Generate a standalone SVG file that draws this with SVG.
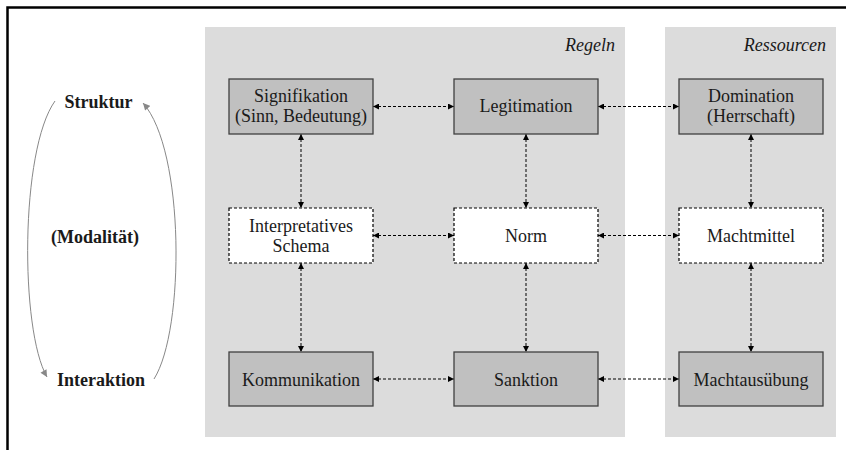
<svg xmlns="http://www.w3.org/2000/svg" width="846" height="450" viewBox="0 0 846 450">
<style>
.panel{fill:#dcdcdc;stroke:none}
.solid{fill:#c0c0c0;stroke:#404040;stroke-width:1.3}
.dash{fill:#ffffff;stroke:#000;stroke-width:1.2;stroke-dasharray:3 2}
text{font-family:'Liberation Serif','Times New Roman','DejaVu Serif',serif;font-size:18px;fill:#1a1a1a;text-anchor:middle}
.b{font-weight:bold}
.i{font-style:italic;text-anchor:end}
.conn{fill:none;stroke:#000;stroke-width:1;stroke-dasharray:3 2;marker-start:url(#ah);marker-end:url(#ah)}
.arc{fill:none;stroke:#888;stroke-width:1;marker-end:url(#ga)}
</style>
<defs>
<marker id="ah" viewBox="0 0 10 10" refX="10" refY="5" markerWidth="7" markerHeight="6" orient="auto-start-reverse" markerUnits="userSpaceOnUse">
<path d="M0,0 L10,5 L0,10 z" fill="#000"/>
</marker>
<marker id="ga" viewBox="0 0 10 10" refX="10" refY="5" markerWidth="8" markerHeight="7" orient="auto" markerUnits="userSpaceOnUse">
<path d="M0,0 L10,5 L0,10 z" fill="#888"/>
</marker>
</defs>
<rect x="0" y="0" width="846" height="450" fill="#fff"/>
<path d="M7.5,450 L7.5,7.5 L846,7.5" fill="none" stroke="#000" stroke-width="2.5"/>
<g id="panels">
<rect class="panel" x="205" y="27" width="420" height="410"/>
<rect class="panel" x="665" y="27" width="171" height="410"/>
<text class="i" x="615" y="51">Regeln</text>
<text class="i" x="826" y="51">Ressourcen</text>
</g>
<g id="levels">
<text class="b" x="98.5" y="108">Struktur</text>
<text class="b" x="95" y="243">(Modalität)</text>
<text class="b" x="101" y="386">Interaktion</text>
<path class="arc" d="M55,101 C20,150 20,330 47,377"/>
<path class="arc" d="M154,379 C185,330 185,150 143,103"/>
</g>
<g id="connectors">
<line class="conn" x1="373" y1="106.5" x2="454" y2="106.5"/>
<line class="conn" x1="598" y1="106.5" x2="679" y2="106.5"/>
<line class="conn" x1="373" y1="235.5" x2="454" y2="235.5"/>
<line class="conn" x1="598" y1="235.5" x2="679" y2="235.5"/>
<line class="conn" x1="373" y1="379" x2="454" y2="379"/>
<line class="conn" x1="598" y1="379" x2="679" y2="379"/>
<line class="conn" x1="301" y1="134" x2="301" y2="208"/>
<line class="conn" x1="526" y1="134" x2="526" y2="208"/>
<line class="conn" x1="751" y1="134" x2="751" y2="208"/>
<line class="conn" x1="301" y1="263" x2="301" y2="352"/>
<line class="conn" x1="526" y1="263" x2="526" y2="352"/>
<line class="conn" x1="751" y1="263" x2="751" y2="352"/>
</g>
<g id="signifikation">
<rect class="solid" x="229" y="79" width="144" height="55"/>
<text x="301" y="102">Signifikation</text>
<text x="301" y="122">(Sinn, Bedeutung)</text>
</g>
<g id="legitimation">
<rect class="solid" x="454" y="79" width="144" height="55"/>
<text x="526" y="112">Legitimation</text>
</g>
<g id="domination">
<rect class="solid" x="679" y="79" width="144" height="55"/>
<text x="751" y="102">Domination</text>
<text x="751" y="122">(Herrschaft)</text>
</g>
<g id="interpretatives-schema">
<rect class="dash" x="229" y="208" width="144" height="55"/>
<text x="301" y="231.5">Interpretatives</text>
<text x="301" y="251.5">Schema</text>
</g>
<g id="norm">
<rect class="dash" x="454" y="208" width="144" height="55"/>
<text x="526" y="242">Norm</text>
</g>
<g id="machtmittel">
<rect class="dash" x="679" y="208" width="144" height="55"/>
<text x="751" y="242">Machtmittel</text>
</g>
<g id="kommunikation">
<rect class="solid" x="229" y="352" width="144" height="54"/>
<text x="301" y="385.5">Kommunikation</text>
</g>
<g id="sanktion">
<rect class="solid" x="454" y="352" width="144" height="54"/>
<text x="526" y="385.5">Sanktion</text>
</g>
<g id="machtausuebung">
<rect class="solid" x="679" y="352" width="144" height="54"/>
<text x="751" y="385.5">Machtausübung</text>
</g>
</svg>
